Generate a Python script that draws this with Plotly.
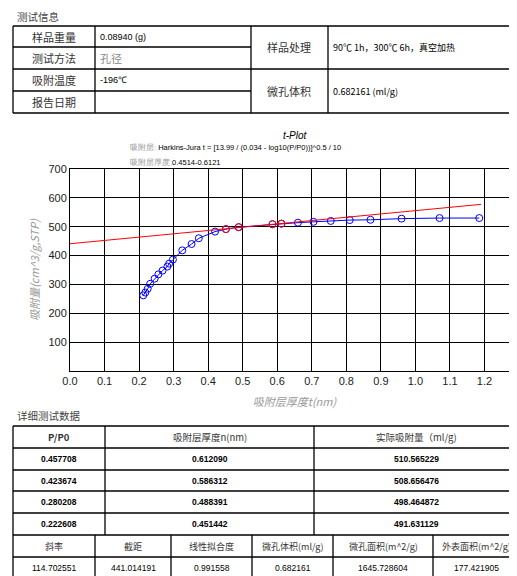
import plotly.graph_objs as go

# t-plot data
t_all = [0.212, 0.218, 0.225, 0.232, 0.245, 0.256, 0.268, 0.282, 0.287, 0.298, 0.325,
         0.352, 0.373, 0.42, 0.4514, 0.4884, 0.5863, 0.6121, 0.66, 0.705, 0.755, 0.81,
         0.87, 0.96, 1.07, 1.185]
v_all = [262, 272, 285, 302, 320, 335, 348, 362, 372, 386, 418,
         440, 460, 483, 491.6, 498.5, 508.7, 510.6, 514, 517, 520, 523,
         524, 528, 530, 530]
t_fit = [0.451442, 0.488391, 0.586312, 0.612090]
v_fit = [491.631129, 498.464872, 508.656476, 510.565229]
slope = 114.702551
intercept = 441.014191
line_t = [0.0, 1.19]

info_labels = ["样品重量", "测试方法", "吸附温度", "报告日期"]
info_values = ["0.08940 (g)", "孔径", "-196℃", ""]
info2_labels = ["样品处理", "微孔体积"]
info2_values = ["90℃ 1h，300℃ 6h，真空加热", "0.682161 (ml/g)"]

hdr = ["P/P0", "吸附层厚度n(nm)", "实际吸附量（ml/g)"]
pp0 = ["0.457708", "0.423674", "0.280208", "0.222608"]
thick = ["0.612090", "0.586312", "0.488391", "0.451442"]
ads = ["510.565229", "508.656476", "498.464872", "491.631129"]
stat_hdr = ["斜率", "截距", "线性拟合度", "微孔体积(ml/g)", "微孔面积(m^2/g)", "外表面积(m^2/g)"]
stat_val = ["114.702551", "441.014191", "0.991558", "0.682161", "1645.728604", "177.421905"]

# plot area in pixels
L, R, T, B = 62, 511, 161, 363
def px(x):
    return (x - L) / (R - L)
def py(y):
    return (B - y) / (B - T)

fig = go.Figure()
fig.add_trace(go.Scatter(x=t_all, y=v_all, mode="lines+markers",
                         line=dict(color="blue", width=1),
                         marker=dict(symbol="circle-open", size=7, color="blue")))
fig.add_trace(go.Scatter(x=line_t, y=[intercept + slope * t for t in line_t], mode="lines",
                         line=dict(color="red", width=1)))
fig.add_trace(go.Scatter(x=t_fit, y=v_fit, mode="markers",
                         marker=dict(symbol="circle-open", size=7, color="red")))

shapes = []
ann = []
FONT = "Noto Sans CJK SC, Arial"

def hline(x0, x1, y):
    shapes.append(dict(type="line", xref="paper", yref="paper", x0=px(x0), x1=px(x1),
                       y0=py(y), y1=py(y), line=dict(color="black", width=1.3)))

def vline(x, y0, y1):
    shapes.append(dict(type="line", xref="paper", yref="paper", x0=px(x), x1=px(x),
                       y0=py(y0), y1=py(y1), line=dict(color="black", width=1.3)))

def text(x, y, s, size=11, color="#333", anchor="center", bold=False, family=FONT):
    if bold:
        s = "<b>" + s + "</b>"
    ann.append(dict(xref="paper", yref="paper", x=px(x), y=py(y), text=s, showarrow=False,
                    xanchor=anchor, yanchor="middle",
                    font=dict(size=size, color=color, family=family)))

# top table
text(7, 8, "测试信息", 10.5, "#444", "left")
for y in [18, 105]:
    hline(5, 512, y)
for y in [39, 83]:
    hline(5, 243, y)
hline(5, 512, 61)
for x in [5, 87, 243, 320, 512]:
    vline(x, 18, 105)
rows = [(18, 39), (39, 61), (61, 83), (83, 105)]
for (a, b), lab, val in zip(rows, info_labels, info_values):
    text(46, (a + b) / 2, lab, 11, "#333")
    if val == "孔径":
        text(90, (a + b) / 2, val, 11, "#888", "left")
    else:
        text(90, (a + b) / 2, val, 9, "black", "left", family="Arial")
for (a, b), lab, val in zip([(18, 61), (61, 105)], info2_labels, info2_values):
    text(281, (a + b) / 2, lab, 11, "#333")
    text(323, (a + b) / 2, val, 9, "black", "left")

# chart texts
text(287, 127, "<i>t-Plot</i>", 10, "black", family="Arial")
text(120, 140, "<span style='color:#999'>吸附层:</span> Harkins-Jura t = [13.99 / (0.034 - log10(P/P0))]^0.5 / 10",
     7.5, "black", "left", family="Arial")
text(120, 154, "<span style='color:#999'>吸附层厚度:</span>0.4514-0.6121", 7.5, "black", "left", family="Arial")

# bottom table
text(7, 407, "详细测试数据", 10.5, "#444", "left")
for y in [418, 440, 462, 483, 505, 527, 549, 571]:
    hline(5, 511, y)
for x in [5, 511]:
    vline(x, 418, 571)
for x in [97, 306]:
    vline(x, 418, 527)
for x in [87, 163, 244, 325, 425]:
    vline(x, 527, 571)
cols = [(5, 97), (97, 306), (306, 511)]
for (a, b), h in zip(cols, hdr):
    text((a + b) / 2, 429, h, 9.5, "#333", bold=(h == "P/P0"))
ry = [451, 472.5, 494, 516]
for i in range(4):
    for (a, b), v in zip(cols, [pp0[i], thick[i], ads[i]]):
        text((a + b) / 2, ry[i], v, 8.5, "black", bold=True, family="Arial")
scols = [(5, 87), (87, 163), (163, 244), (244, 325), (325, 425), (425, 511)]
for (a, b), h, v in zip(scols, stat_hdr, stat_val):
    text((a + b) / 2, 538, h, 9, "#333")
    text((a + b) / 2, 560, v, 8.5, "black", family="Arial")

fig.update_layout(
    width=517, height=576, showlegend=False,
    paper_bgcolor="white", plot_bgcolor="white",
    margin=dict(l=L, r=517 - R, t=T, b=576 - B, autoexpand=False),
    shapes=shapes, annotations=ann,
    font=dict(family=FONT),
)
fig.update_xaxes(range=[0, 1.3], dtick=0.1, tickformat=".1f", showgrid=True, gridcolor="black",
                 gridwidth=1, showline=True, linecolor="black", mirror=True, zeroline=False,
                 ticks="", automargin=False,
                 tickfont=dict(size=11, color="#222", family="Arial"),
                 title=dict(text="<i>吸附层厚度t(nm)</i>", font=dict(size=11, color="#999"), standoff=12))
fig.update_yaxes(range=[0, 700], showgrid=True, gridcolor="black", gridwidth=1,
                 showline=True, linecolor="black", mirror=True, zeroline=False, ticks="",
                 automargin=False, tickvals=[100, 200, 300, 400, 500, 600, 700],
                 tickfont=dict(size=11, color="#222", family="Arial"),
                 title=dict(text="<i>吸附量(cm^3/g,STP)</i>", font=dict(size=11, color="#999"), standoff=6))
fig.write_html("out.html")
